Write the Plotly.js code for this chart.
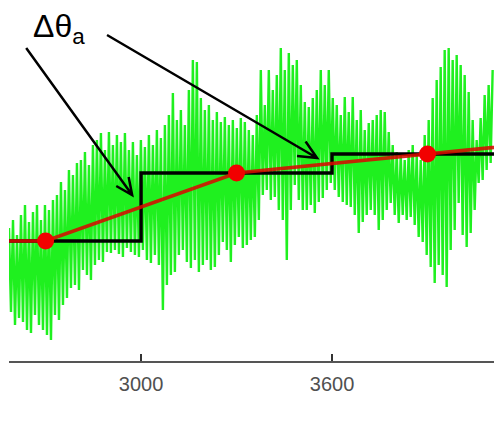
<!DOCTYPE html>
<html>
<head>
<meta charset="utf-8">
<script src="https://cdn.plot.ly/plotly-3.0.1.min.js"></script>
<style>html,body{margin:0;padding:0;background:#fff;}#chart{width:494px;height:422px;}</style>
</head>
<body>
<div id="chart"></div>
<script>
// Signal samples (arbitrary angle units), regularly sampled
const signalStart = 2585;
const signalStep = 6.28;
const signalValues = [
132,48,140,35,125,42,145,38,155,30,138,27,148,45,155,35,140,30,155,25,
150,20,160,45,165,40,178,55,170,62,190,72,185,75,197,70,200,90,208,85,
195,80,215,95,220,100,227,98,210,108,228,107,215,110,225,106,218,103,227,112,
210,108,218,105,205,103,220,110,213,100,225,97,215,105,230,95,222,50,235,75,
245,85,267,88,240,105,250,110,235,98,270,92,300,100,298,88,262,95,250,100,
255,90,240,93,248,105,238,118,243,110,235,98,240,115,232,123,242,112,238,115,
230,120,225,123,245,140,290,165,255,170,290,160,270,163,285,150,312,140,290,100,
307,150,295,175,300,160,275,150,258,150,253,155,262,147,270,158,290,162,275,170,
290,177,262,170,255,163,245,158,263,155,248,153,263,145,240,127,250,138,230,145,
237,150,240,145,245,130,250,140,248,150,228,157,215,145,208,137,205,145,200,140,
210,143,215,135,205,123,200,118,225,105,240,93,262,77,280,95,293,85,310,73,
312,110,300,130,305,157,295,125,285,113,268,127,240,150,220,177,242,180,265,190,
275,197,290
];
const signalX = signalValues.map((_, i) => signalStart + i * signalStep);

// Piecewise-constant estimate (one level per 600-unit interval)
const stepEdges = [2400, 3000, 3600, 4200];
const stepLevels = [119, 187, 206, 206];

// Interval mid-points and the line joining them
const midX = [2700, 3300, 3900];
const midY = [119, 187, 206];
const trendX = [2400, 2700, 3300, 3900, 4500];
const trendY = [119, 119, 187, 206, 225];

// Axis ticks
const tickValues = [3000, 3600];
const tickLabels = ["3000", "3600"];

const traces = [
  {x: signalX, y: signalValues, type: 'scatter', mode: 'lines',
   line: {color: '#1ff01f', width: 2.4}, hoverinfo: 'skip'},
  {x: stepEdges, y: stepLevels, type: 'scatter', mode: 'lines',
   line: {color: '#000000', width: 3.4, shape: 'hv'}, hoverinfo: 'skip'},
  {x: trendX, y: trendY, type: 'scatter', mode: 'lines',
   line: {color: 'rgba(215,10,0,0.88)', width: 3.6}, hoverinfo: 'skip'},
  {x: midX, y: midY, type: 'scatter', mode: 'markers',
   marker: {color: '#f20000', size: 17, line: {width: 0}}, hoverinfo: 'skip'}
];

function arrowPath(s, t, a1, a2) {
  return `M${s[0]},${s[1]} L${t[0]},${t[1]} M${a1[0]},${a1[1]} L${t[0]},${t[1]} L${a2[0]},${a2[1]}`;
}

const layout = {
  width: 494, height: 422,
  margin: {l: 9, r: 0, t: 0, b: 61},
  paper_bgcolor: '#ffffff', plot_bgcolor: '#ffffff',
  showlegend: false,
  xaxis: {
    range: [2585, 4109], showgrid: false, zeroline: false,
    showline: true, linecolor: '#555555', linewidth: 2,
    ticks: 'inside', ticklen: 7, tickwidth: 2, tickcolor: '#333333',
    tickvals: tickValues, ticktext: tickLabels,
    tickfont: {family: 'Liberation Sans, Arial, sans-serif', size: 20, color: '#505050'},
    ticklabelstandoff: 4
  },
  yaxis: {range: [-1, 360], visible: false, fixedrange: true},
  shapes: [
    {type: 'path', xref: 'x', yref: 'y',
     path: arrowPath([2639, 312], [2972, 165], [2961, 183], [2922, 174]),
     line: {color: '#000', width: 2.5}},
    {type: 'path', xref: 'x', yref: 'y',
     path: arrowPath([2893, 325], [3553, 202], [3517, 218.5], [3490, 204]),
     line: {color: '#000', width: 2.5}}
  ],
  annotations: [
    {x: 2741, y: 332, xref: 'x', yref: 'y', text: 'Δθ<sub>a</sub>', showarrow: false,
     xanchor: 'center', yanchor: 'middle',
     font: {family: 'Liberation Sans, Arial, sans-serif', size: 32, color: '#000'}}
  ]
};

Plotly.newPlot('chart', traces, layout, {staticPlot: true, displayModeBar: false});
</script>
</body>
</html>
